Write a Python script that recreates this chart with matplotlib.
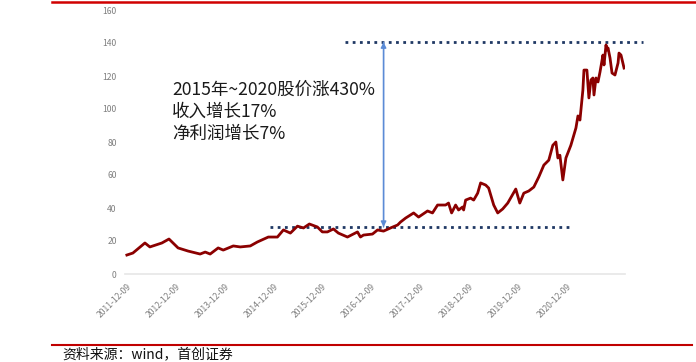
import pandas as pd
import matplotlib.pyplot as plt
import matplotlib.dates as mdates
from matplotlib.lines import Line2D

plt.rcParams['font.family'] = ['Noto Sans CJK SC', 'DejaVu Sans']

# share price
dates = [
    "2011-12-09", "2012-01-23", "2012-04-22", "2012-05-29", "2012-08-27", "2012-10-19",
    "2012-12-26", "2013-03-11", "2013-06-09", "2013-07-17", "2013-08-23", "2013-10-22",
    "2013-11-29", "2014-02-12", "2014-04-05", "2014-06-19", "2014-08-11", "2014-11-01",
    "2015-01-08", "2015-02-22", "2015-04-15", "2015-06-07", "2015-07-22", "2015-09-04",
    "2015-11-03", "2015-12-10", "2016-01-17", "2016-03-02", "2016-04-08", "2016-06-15",
    "2016-08-29", "2016-09-20", "2016-10-13", "2016-12-19", "2017-01-26", "2017-03-12",
    "2017-05-03", "2017-06-25", "2017-07-17", "2017-08-24", "2017-10-23", "2017-11-29",
    "2018-02-04", "2018-03-13", "2018-04-20", "2018-06-19", "2018-07-11", "2018-08-03",
    "2018-09-02", "2018-09-24", "2018-10-24", "2018-11-01", "2018-11-16", "2018-12-23",
    "2019-01-15", "2019-02-14", "2019-03-08", "2019-04-15", "2019-05-07", "2019-06-14",
    "2019-07-14", "2019-08-20", "2019-09-27", "2019-11-26", "2019-12-26", "2020-01-25",
    "2020-03-02", "2020-04-09", "2020-05-16", "2020-06-23", "2020-07-30", "2020-08-29",
    "2020-09-21", "2020-10-06", "2020-10-21", "2020-11-12", "2020-12-05", "2021-01-11",
    "2021-02-18", "2021-03-05", "2021-03-20", "2021-04-11", "2021-04-19", "2021-05-11",
    "2021-05-26", "2021-06-10", "2021-06-25", "2021-07-03", "2021-07-18", "2021-08-02",
    "2021-08-17", "2021-09-08", "2021-09-16", "2021-10-01", "2021-10-08", "2021-10-16",
    "2021-10-31", "2021-11-15", "2021-12-07", "2021-12-30", "2022-01-06", "2022-01-21",
    "2022-02-13",
]
prices = [
    11.5, 12.7, 18.8, 16.4, 18.8, 21.2,
    15.8, 13.9, 12.1, 13.3, 12.1, 15.8,
    14.5, 17.0, 16.4, 17.0, 19.4, 22.4,
    22.4, 26.7, 24.8, 29.0, 27.9, 30.3,
    28.5, 25.5, 25.5, 27.3, 24.8, 22.4,
    25.5, 22.4, 23.6, 24.2, 26.7, 26.0,
    27.9, 29.7, 31.5, 33.9, 37.0, 34.5,
    38.2, 37.0, 41.8, 41.8, 43.0, 37.0,
    41.8, 38.8, 40.6, 38.8, 44.8, 46.0,
    44.8, 49.0, 55.2, 53.9, 52.1, 41.8,
    37.0, 39.4, 43.0, 51.5, 43.0, 49.0,
    50.3, 52.7, 58.8, 66.0, 69.0, 78.0,
    80.0, 70.3, 72.0, 57.0, 70.3, 78.0,
    88.5, 95.8, 93.3, 111.5, 123.6, 123.6,
    106.7, 117.6, 118.8, 108.5, 118.8, 116.4,
    122.4, 132.7, 126.7, 138.8, 135.8, 137.0,
    130.9, 121.8, 120.6, 127.9, 133.9, 132.7,
    124.8,
]

tick_dates = ["2011-12-09", "2012-12-09", "2013-12-09", "2014-12-09", "2015-12-09",
              "2016-12-09", "2017-12-09", "2018-12-09", "2019-12-09", "2020-12-09"]
y_ticks = [0, 20, 40, 60, 80, 100, 120, 140, 160]

low_level = 28.5
high_level = 140.5
low_span = ["2014-11-16", "2020-12-27"]
high_span = ["2016-05-31", "2022-07-05"]
arrow_date = "2017-03-12"

notes = ["2015年~2020股价涨430%", "收入增长17%", "净利润增长7%"]
source = "资料来源：wind，首创证券"

x = pd.to_datetime(dates)
ticks = pd.to_datetime(tick_dates)

fig = plt.figure(figsize=(6.96, 3.62), dpi=100)
ax = fig.add_axes([125 / 696, 88 / 362, 500 / 696, 264 / 362])

ax.plot(x, prices, color="#8B0000", lw=2.0, solid_joinstyle="round", zorder=3)

ax.set_ylim(0, 160)
ax.set_xlim(pd.Timestamp("2011-11-25"), pd.Timestamp("2022-02-20"))
ax.set_yticks(y_ticks)
ax.set_xticks(ticks)
ax.set_xticklabels(tick_dates, rotation=45, ha="right", rotation_mode="anchor")
ax.tick_params(axis="both", length=0, labelsize=6.2, labelcolor="#7f7f7f")
ax.tick_params(axis="y", pad=6)
ax.tick_params(axis="x", pad=6)
for s in ["top", "right", "left"]:
    ax.spines[s].set_visible(False)
ax.spines["bottom"].set_color("#e6e6e6")
ax.spines["bottom"].set_linewidth(1.2)

ax.plot(pd.to_datetime(low_span), [low_level, low_level], ls=(0, (1, 1.6)),
        color="#1F3864", lw=2, zorder=2)
ax.plot(pd.to_datetime(high_span), [high_level, high_level], ls=(0, (1, 1.6)),
        color="#1F3864", lw=2, zorder=2, clip_on=False)

xa = mdates.date2num(pd.Timestamp(arrow_date))
ax.annotate("", xy=(xa, low_level), xytext=(xa, high_level),
            arrowprops=dict(arrowstyle="-|>", color="#5B8BD6", lw=1,
                            mutation_scale=8, shrinkA=0, shrinkB=0))
ax.annotate("", xy=(xa, high_level), xytext=(xa, low_level),
            arrowprops=dict(arrowstyle="-|>", color="#5B8BD6", lw=1,
                            mutation_scale=8, shrinkA=0, shrinkB=0))

for i, t in enumerate(notes):
    fig.text(172 / 696, 1 - (90 + 22 * i) / 362, t, fontsize=12.6, color="#1a1a1a",
             va="center", ha="left")

fig.add_artist(Line2D([52 / 696, 1.0], [1 - 1.5 / 362, 1 - 1.5 / 362],
                      color="#D00000", lw=1.8))
fig.add_artist(Line2D([52 / 696, 692 / 696], [1 - 345 / 362, 1 - 345 / 362],
                      color="#C00000", lw=1.5))
fig.text(62 / 696, 1 - 354 / 362, source, fontsize=10, color="#111111",
         va="center", ha="left", style="italic")

fig.savefig("out.png", dpi=100)
